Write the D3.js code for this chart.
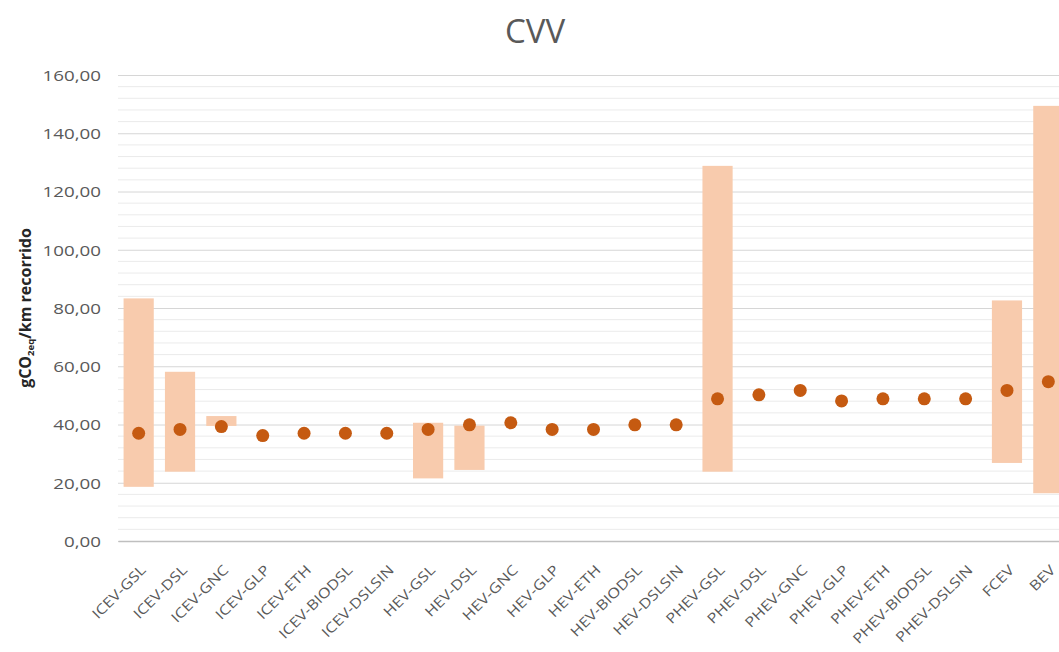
<!DOCTYPE html>
<html>
<head>
<meta charset="utf-8">
<script src="https://cdn.jsdelivr.net/npm/d3@7"></script>
<style>
  html, body { margin: 0; padding: 0; background: #fff; }
  svg { display: block; }
  text { font-family: "Open Sans", Lato, sans-serif; }
</style>
</head>
<body>
<svg id="chart" width="1059" height="652"></svg>
<script>
// Vehicle / fuel pathways
const categories = [
  "ICEV-GSL", "ICEV-DSL", "ICEV-GNC", "ICEV-GLP", "ICEV-ETH", "ICEV-BIODSL", "ICEV-DSLSIN",
  "HEV-GSL", "HEV-DSL", "HEV-GNC", "HEV-GLP", "HEV-ETH", "HEV-BIODSL", "HEV-DSLSIN",
  "PHEV-GSL", "PHEV-DSL", "PHEV-GNC", "PHEV-GLP", "PHEV-ETH", "PHEV-BIODSL", "PHEV-DSLSIN",
  "FCEV", "BEV"
];
// Central estimate (gCO2eq/km)
const central = [
  37.0, 38.3, 39.3, 36.2, 37.0, 37.0, 37.0,
  38.3, 39.9, 40.6, 38.3, 38.3, 39.9, 39.9,
  48.8, 50.2, 51.7, 48.1, 48.8, 48.8, 48.8,
  51.7, 54.7
];
// Range limits (null where no range is given)
const rangeMin = [
  18.6, 23.8, 39.5, null, null, null, null,
  21.5, 24.4, null, null, null, null, null,
  23.8, null, null, null, null, null, null,
  26.8, 16.4
];
const rangeMax = [
  83.3, 58.1, 42.9, null, null, null, null,
  40.6, 39.6, null, null, null, null, null,
  128.8, null, null, null, null, null, null,
  82.6, 149.4
];
const yTicks = [0, 20, 40, 60, 80, 100, 120, 140, 160];

const svg = d3.select("#chart");
const plotLeft = 118, plotRight = 1069, plotTop = 75, plotBottom = 541;

const x = d3.scaleBand().domain(categories).range([plotLeft, plotRight]).paddingInner(0.27).paddingOuter(0.135);
const y = d3.scaleLinear().domain([0, 160]).range([plotBottom, plotTop]);
const fmt = v => d3.format(".2f")(v).replace(".", ",");

// minor gridlines every 4 units
const minor = d3.range(0, 161, 4).filter(v => v % 20 !== 0);
svg.append("g").selectAll("line").data(minor).join("line")
  .attr("x1", plotLeft).attr("x2", plotRight)
  .attr("y1", d => y(d)).attr("y2", d => y(d))
  .attr("stroke", "#ebebeb").attr("stroke-width", 1);

// major gridlines + labels
const yAxis = d3.axisLeft(y).tickValues(yTicks).tickFormat(fmt).tickSize(-(plotRight - plotLeft));
const gy = svg.append("g").attr("transform", `translate(${plotLeft},0)`).call(yAxis);
gy.select(".domain").remove();
gy.selectAll(".tick line").attr("stroke", "#d6d6d6");
gy.selectAll(".tick text")
  .attr("fill", "#595959").attr("font-size", 15)
  .attr("x", 0).attr("dy", "0.35em")
  .attr("transform", "translate(-17,0) scale(1.25,1)")
  .style("font-family", "'Open Sans', Lato, sans-serif");

// range bars
const idx = d3.range(categories.length).filter(i => rangeMin[i] !== null);
svg.append("g").selectAll("rect").data(idx).join("rect")
  .attr("x", i => x(categories[i]))
  .attr("width", x.bandwidth())
  .attr("y", i => y(rangeMax[i]))
  .attr("height", i => y(rangeMin[i]) - y(rangeMax[i]))
  .attr("fill", "#f8cbad");

// x axis
const xAxis = d3.axisBottom(x).tickSize(0).tickPadding(0);
const gx = svg.append("g").attr("transform", `translate(0,${plotBottom})`).call(xAxis);
gx.select(".domain").attr("stroke", "#bfbfbf").attr("stroke-width", 1.5);
gx.selectAll(".tick text")
  .attr("fill", "#595959").attr("font-size", 14)
  .style("font-family", "'Open Sans', Lato, sans-serif")
  .attr("text-anchor", "end")
  .attr("y", 0).attr("dy", 0)
  .attr("transform", "translate(8,30) rotate(-45) scale(1.18,1)");

// central points
svg.append("g").selectAll("circle").data(categories).join("circle")
  .attr("cx", d => x(d) + x.bandwidth() / 2)
  .attr("cy", (d, i) => y(central[i]))
  .attr("r", 6.5)
  .attr("fill", "#c55a11");

// title
svg.append("text").attr("x", 535).attr("y", 43).attr("text-anchor", "middle")
  .attr("font-size", 33).attr("fill", "#595959").text("CVV");

// y axis title with subscript
const yt = svg.append("text")
  .attr("transform", "translate(31,308) rotate(-90)")
  .attr("text-anchor", "middle")
  .attr("font-size", 16).attr("font-weight", "bold").attr("fill", "#262626");
yt.append("tspan").text("gCO");
yt.append("tspan").attr("font-size", 9.5).attr("dy", 3).text("2eq");
yt.append("tspan").attr("dy", -3).text("/km recorrido");
</script>
</body>
</html>
